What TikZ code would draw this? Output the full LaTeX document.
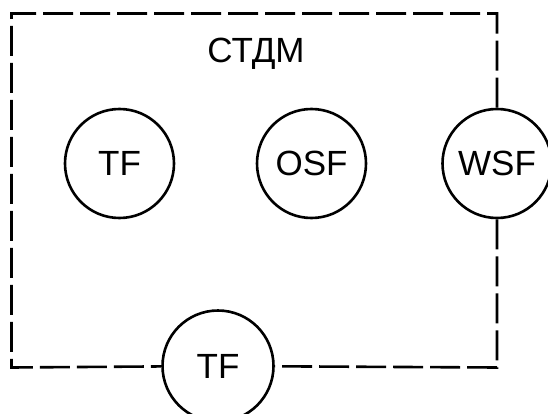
\documentclass[tikz,border=0pt]{standalone}
\usepackage{fontspec}
\setmainfont{Liberation Sans}
\begin{document}
\begin{tikzpicture}[x=1pt,y=-1pt,line width=2.6pt,
  fn/.style={circle,draw,minimum size=109pt,inner sep=0pt,font=\fontsize{35}{40}\selectfont},
  lbl/.style={font=\fontsize{35}{40}\selectfont,inner sep=0pt},
  bound/.style={dash pattern=on 30pt off 7pt,line cap=butt,line join=miter}]
\useasboundingbox (0,0) rectangle (548,414);
\node[fn] (tf1) at (119.5,163.5) {TF};
\node[fn] (osf) at (311.5,163.5) {OSF};
\node[fn] (wsf) at (497,163.5) {WSF};
\node[fn,minimum size=111pt] (tf2) at (218,366) {TF};
\node[lbl] (title) at (256,54) {СТДМ};
\coordinate (tl) at (11.5,13.5);
\coordinate (tr) at (497,13.5);
\coordinate (bl) at (11.5,367.5);
\coordinate (br) at (497,367.5);
\draw[bound] (wsf) -- (tr) -- (tl) -- (bl) -- (tf2);
\draw[bound] (wsf) -- (br) -- (tf2);
\end{tikzpicture}
\end{document}
